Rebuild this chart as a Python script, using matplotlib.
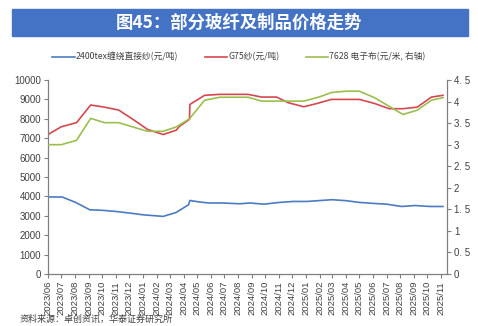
import matplotlib
matplotlib.use("Agg")
import matplotlib.pyplot as plt
import matplotlib.dates as mdates
import pandas as pd

plt.rcParams['font.family'] = ['Noto Sans CJK SC', 'DejaVu Sans']

# 2400tex缠绕直接纱 (元/吨, 左轴)
blue_dates = ["2023-06-01", "2023-07-03", "2023-08-02", "2023-09-03", "2023-10-03",
              "2023-11-02", "2023-12-02", "2024-01-01", "2024-02-15", "2024-03-15",
              "2024-04-12", "2024-04-15", "2024-05-07", "2024-05-28", "2024-06-28",
              "2024-08-05", "2024-08-28", "2024-09-28", "2024-11-03", "2024-12-03",
              "2025-01-03", "2025-03-01", "2025-04-01", "2025-05-01", "2025-06-01",
              "2025-07-01", "2025-08-04", "2025-09-03", "2025-10-07", "2025-11-05"]
blue_vals = [3970, 3970, 3690, 3310, 3280, 3220, 3140, 3050, 2970, 3170,
             3570, 3790, 3710, 3660, 3660, 3620, 3660, 3600, 3690, 3740,
             3740, 3830, 3780, 3690, 3640, 3600, 3480, 3530, 3480, 3480]

# G75纱 (元/吨, 左轴)
red_dates = ["2023-06-01", "2023-07-01", "2023-08-04", "2023-09-05", "2023-10-06",
             "2023-11-07", "2023-12-09", "2024-01-11", "2024-02-15", "2024-03-15",
             "2024-03-23", "2024-04-14", "2024-04-15", "2024-05-18", "2024-06-21",
             "2024-08-24", "2024-09-23", "2024-10-27", "2024-11-22", "2024-12-27",
             "2025-01-26", "2025-02-27", "2025-05-01", "2025-06-04", "2025-07-07",
             "2025-08-07", "2025-09-08", "2025-10-10", "2025-11-05"]
red_vals = [7190, 7590, 7800, 8710, 8600, 8450, 7970, 7450, 7190, 7410,
            7620, 7970, 8740, 9210, 9260, 9260, 9120, 9120, 8830, 8620,
            8790, 9000, 9000, 8790, 8520, 8520, 8600, 9120, 9210]

# 7628 电子布 (元/米, 右轴)
green_dates = ["2023-06-01", "2023-07-01", "2023-08-04", "2023-09-05", "2023-10-06",
               "2023-11-07", "2023-12-09", "2024-01-11", "2024-02-15", "2024-03-15",
               "2024-04-14", "2024-05-18", "2024-06-21", "2024-08-24", "2024-09-23",
               "2024-12-27", "2025-02-01", "2025-02-27", "2025-04-01", "2025-05-01",
               "2025-06-04", "2025-07-07", "2025-08-07", "2025-09-08", "2025-10-10",
               "2025-11-05"]
green_vals = [3.00, 3.00, 3.10, 3.61, 3.51, 3.51, 3.41, 3.31, 3.31, 3.41,
              3.60, 4.03, 4.10, 4.10, 4.01, 4.01, 4.11, 4.21, 4.24, 4.24,
              4.09, 3.89, 3.70, 3.80, 4.03, 4.09]

labels = ["2400tex缠绕直接纱(元/吨)", "G75纱(元/吨)", "7628 电子布(元/米, 右轴)"]
colors = ["#4a7cc4", "#d6474f", "#9bbf4f"]
tick_dates = pd.date_range("2023-06-01", "2025-11-01", freq="MS")
right_ticks = [0, 0.5, 1, 1.5, 2, 2.5, 3, 3.5, 4, 4.5]

fig = plt.figure(figsize=(4.78, 3.26), dpi=100)
fig.patch.set_facecolor("white")

# 标题栏
fig.patches.append(plt.Rectangle((12 / 478, 1 - 36 / 326), 456 / 478, 27 / 326,
                                 transform=fig.transFigure, color="#4472c4", zorder=0))
fig.text(0.5, 1 - 22.5 / 326, "图45：部分玻纤及制品价格走势", color="white",
         fontsize=12.5, fontweight="bold", ha="center", va="center")

ax = fig.add_axes([48 / 478, 1 - 274 / 326, 399 / 478, 194 / 326])
ax2 = ax.twinx()

l1, = ax.plot(pd.to_datetime(blue_dates), blue_vals, color=colors[0], lw=1.2)
l2, = ax.plot(pd.to_datetime(red_dates), red_vals, color=colors[1], lw=1.2)
l3, = ax2.plot(pd.to_datetime(green_dates), green_vals, color=colors[2], lw=1.2)

ax.set_ylim(0, 10000)
ax.set_yticks(range(0, 10001, 1000))
ax2.set_ylim(0, 4.5)
ax2.set_yticks(right_ticks)
ax2.set_yticklabels([("%g" % v).replace(".", ". ") for v in right_ticks])

ax.set_xlim(pd.Timestamp("2023-06-01"), pd.Timestamp("2025-11-14"))
ax.set_xticks(tick_dates)
ax.xaxis.set_major_formatter(mdates.DateFormatter("%Y/%m"))

for a in (ax, ax2):
    a.spines["top"].set_visible(False)
    a.spines["left"].set_visible(a is ax)
    a.spines["right"].set_visible(a is ax2)
    a.spines["bottom"].set_visible(a is ax)
    for s in a.spines.values():
        s.set_color("#808080")
        s.set_linewidth(0.9)
    a.tick_params(direction="out", length=3, width=0.8, color="#808080",
                  labelsize=7, labelcolor="#404040", pad=2)
    for t in a.get_xticklabels() + a.get_yticklabels():
        t.set_fontfamily("Liberation Sans")

plt.setp(ax.get_xticklabels(), rotation=90, fontsize=6.8)

fig.legend([l1, l2, l3], labels, loc="center", bbox_to_anchor=(0.5, 1 - 57 / 326),
           ncol=3, frameon=False, fontsize=6.3, handlelength=2.6, handletextpad=0.1,
           columnspacing=3.0, labelcolor="#404040")

fig.text(20 / 478, 1 - 315 / 326, "资料来源：卓创资讯，华泰证券研究所",
         fontsize=6.5, color="#404040", ha="left", va="top")

fig.savefig("out.png", dpi=100)
